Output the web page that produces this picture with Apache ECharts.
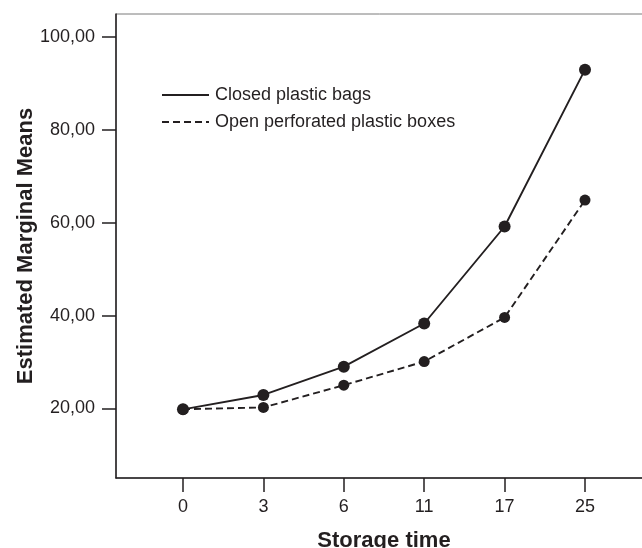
<!DOCTYPE html>
<html>
<head>
	<meta charset="utf-8">
	<title>Estimated Marginal Means</title>
	<script src="https://cdn.jsdelivr.net/npm/echarts@6/dist/echarts.min.js"></script>
	<style>
		html, body { margin: 0; padding: 0; background: #fff; }
		#chart { width: 642px; height: 548px; }
	</style>
</head>
<body>
	<div id="chart"></div>
	<script>
		// storage time categories
		var storageTimes = ['0', '3', '6', '11', '17', '25'];
		// estimated marginal means per packaging
		var closedBags = [19.8, 22.9, 29.0, 38.3, 59.2, 93.0];
		var openBoxes = [19.8, 20.2, 25.0, 30.1, 39.6, 64.9];
		var yTicks = [20, 40, 60, 80, 100];
		var seriesNames = ['Closed plastic bags', 'Open perforated plastic boxes'];

		var ink = '#231f20';
		var font = '"Liberation Sans", Arial, sans-serif';

		function toPoints(arr) {
			var pts = [];
			for (var i = 0; i < arr.length; i++) {
				pts.push([i, arr[i]]);
			}
			return pts;
		}
		var idx = storageTimes.map(function (t, i) { return i; });

		var chart = echarts.init(document.getElementById('chart'));
		chart.setOption({
			animation: false,
			textStyle: { fontFamily: font, color: ink },
			// plot frame runs past the right edge of the picture
			grid: {
				left: 116, top: 14, width: 536, bottom: 70,
				outerBoundsMode: 'none',
				show: true, borderColor: '#7a7a7a', borderWidth: 1
			},
			legend: {
				orient: 'vertical',
				left: 161, top: 86, padding: 0,
				itemWidth: 47, itemHeight: 14, itemGap: 9,
				itemStyle: { opacity: 0 },
				textStyle: { fontSize: 18, color: ink, fontFamily: font, padding: [0, 0, 0, 1] },
				data: seriesNames
			},
			xAxis: {
				type: 'value',
				min: -0.8333, max: 5.8333,
				name: 'Storage time',
				nameLocation: 'middle',
				nameGap: 52,
				nameMoveOverlap: false,
				nameTextStyle: { fontSize: 22, fontWeight: 'bold', color: ink, fontFamily: font },
				axisLine: { show: true, onZero: false, lineStyle: { color: ink, width: 1.5 } },
				axisTick: { show: true, length: 14, customValues: idx, lineStyle: { color: ink, width: 1.5 } },
				axisLabel: {
					customValues: idx, margin: 20, fontSize: 18, color: ink, fontFamily: font,
					formatter: function (v) { return storageTimes[Math.round(v)]; }
				},
				splitLine: { show: false }
			},
			yAxis: {
				type: 'value',
				min: 5, max: 105,
				name: 'Estimated Marginal Means',
				nameLocation: 'middle',
				nameGap: 79,
				nameMoveOverlap: false,
				nameTextStyle: { fontSize: 22, fontWeight: 'bold', color: ink, fontFamily: font },
				axisLine: { show: true, onZero: false, lineStyle: { color: ink, width: 1.5 } },
				axisTick: { show: true, length: 14, customValues: yTicks, lineStyle: { color: ink, width: 1.5 } },
				axisLabel: {
					customValues: yTicks, margin: 21, fontSize: 18, color: ink, fontFamily: font,
					formatter: function (v) { return v.toFixed(2).replace('.', ','); }
				},
				splitLine: { show: false }
			},
			series: [
				{
					name: seriesNames[0],
					type: 'line',
					data: toPoints(closedBags),
					symbol: 'circle', symbolSize: 12,
					itemStyle: { color: ink },
					lineStyle: { color: ink, width: 1.9 }
				},
				{
					name: seriesNames[1],
					type: 'line',
					data: toPoints(openBoxes),
					symbol: 'circle', symbolSize: 11,
					itemStyle: { color: ink },
					lineStyle: { color: ink, width: 1.9, type: [7, 4] }
				}
			]
		});
	</script>
</body>
</html>
